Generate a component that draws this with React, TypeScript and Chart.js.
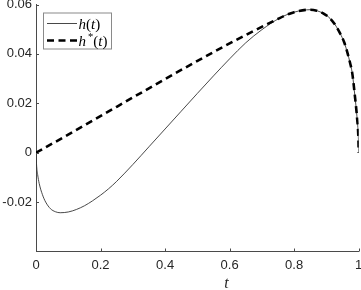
import React, { useEffect, useRef } from "react";
import { Chart, registerables } from "chart.js";

Chart.register(...registerables);

// h(t) samples
const H_T = [0, 0.002, 0.005, 0.01, 0.02, 0.03, 0.045, 0.06, 0.075, 0.1, 0.125, 0.15, 0.175, 0.2, 0.225, 0.25, 0.3, 0.35, 0.4, 0.45, 0.5, 0.55, 0.6, 0.65, 0.7, 0.755, 0.8, 0.85, 0.87, 0.89, 0.911, 0.93, 0.942, 0.955, 0.965, 0.973, 0.98, 0.9886, 0.995, 0.999, 1];
const H_V = [0, -0.0055, -0.0088, -0.0125, -0.017, -0.02, -0.0227, -0.0239, -0.0243, -0.024, -0.023, -0.0215, -0.0195, -0.0172, -0.0146, -0.0116, -0.0048, 0.0024, 0.0096, 0.0168, 0.024, 0.0311, 0.038, 0.0445, 0.0498, 0.0545, 0.0569, 0.0579, 0.0575, 0.0564, 0.0544, 0.0512, 0.0484, 0.0447, 0.0405, 0.0365, 0.0322, 0.0225, 0.014, 0.006, 0];

// h*(t) samples (concave envelope)
const HS_T = [0, 0.755, 0.8, 0.85, 0.87, 0.89, 0.911, 0.93, 0.942, 0.955, 0.965, 0.973, 0.98, 0.9886, 0.995, 0.999, 1];
const HS_V = [0, 0.0545, 0.0569, 0.0579, 0.0575, 0.0564, 0.0544, 0.0512, 0.0484, 0.0447, 0.0405, 0.0365, 0.0322, 0.0225, 0.014, 0.006, 0];

const X_TICKS = [0, 0.2, 0.4, 0.6, 0.8, 1];
const Y_TICKS = [-0.02, 0, 0.02, 0.04, 0.06];
const X_RANGE = [0, 1];
const Y_RANGE = [-0.04, 0.06];

const SANS = '"Liberation Sans", Arial, sans-serif';
const SERIF = '"Liberation Serif", "Times New Roman", serif';
const AXIS_COLOR = "#4a4a4a";
const DASH = [7, 4.5];

type Seg = { t: string; italic?: boolean; sup?: boolean; gap?: number };

function drawMath(ctx: CanvasRenderingContext2D, segs: Seg[], x: number, y: number, size: number) {
  let cx = x;
  segs.forEach((s) => {
    const fs = s.sup ? size * 0.7 : size;
    ctx.font = `${s.italic ? "italic " : ""}${fs}px ${SERIF}`;
    const dy = s.sup ? -size * 0.36 : 0;
    cx += s.gap || 0;
    ctx.fillText(s.t, cx, y + dy);
    cx += ctx.measureText(s.t).width;
  });
}

const decor = {
  id: "decor",
  afterDraw(chart: any) {
    const { ctx, chartArea: a, scales } = chart;
    const xs = scales.x;
    const ys = scales.y;
    ctx.save();
    // inward tick marks
    ctx.strokeStyle = AXIS_COLOR;
    ctx.lineWidth = 1;
    ctx.beginPath();
    X_TICKS.forEach((v) => {
      const px = Math.round(xs.getPixelForValue(v)) + 0.5;
      ctx.moveTo(px, a.bottom);
      ctx.lineTo(px, a.bottom - 3);
    });
    Y_TICKS.forEach((v) => {
      const py = Math.round(ys.getPixelForValue(v)) + 0.5;
      ctx.moveTo(a.left, py);
      ctx.lineTo(a.left + 3, py);
    });
    ctx.stroke();

    // x axis title
    ctx.fillStyle = "#262626";
    ctx.textAlign = "center";
    ctx.textBaseline = "alphabetic";
    ctx.font = `italic 16px ${SERIF}`;
    ctx.fillText("t", xs.getPixelForValue(0.59), 288);

    // legend
    const lx = a.left + 7.5;
    const ly = a.top + 8.5;
    const lw = 68;
    const lh = 36;
    ctx.fillStyle = "#ffffff";
    ctx.fillRect(lx, ly, lw, lh);
    ctx.strokeStyle = "#8a8a8a";
    ctx.lineWidth = 1;
    ctx.strokeRect(lx, ly, lw, lh);

    const r1 = ly + 10.5;
    const r2 = ly + 27.5;
    ctx.strokeStyle = "#333333";
    ctx.lineWidth = 0.9;
    ctx.beginPath();
    ctx.moveTo(lx + 3.5, r1);
    ctx.lineTo(lx + 33.5, r1);
    ctx.stroke();
    ctx.strokeStyle = "#000000";
    ctx.lineWidth = 2.6;
    ctx.setLineDash(DASH);
    ctx.beginPath();
    ctx.moveTo(lx + 3.5, r2);
    ctx.lineTo(lx + 33.5, r2);
    ctx.stroke();
    ctx.setLineDash([]);

    ctx.fillStyle = "#000000";
    ctx.textAlign = "left";
    drawMath(ctx, [{ t: "h", italic: true }, { t: "(" }, { t: "t", italic: true }, { t: ")" }], lx + 35, r1 + 5, 15);
    drawMath(ctx, [{ t: "h", italic: true }, { t: "*", sup: true, gap: 2 }, { t: "(" }, { t: "t", italic: true }, { t: ")" }], lx + 35, r2 + 5, 15);
    ctx.restore();
  },
};

export default function App() {
  const ref = useRef<HTMLCanvasElement | null>(null);

  useEffect(() => {
    if (!ref.current) return;
    const hData = H_T.map((t, i) => ({ x: t, y: H_V[i] }));
    const hsData = HS_T.map((t, i) => ({ x: t, y: HS_V[i] }));
    const chart = new Chart(ref.current, {
      type: "line",
      data: {
        datasets: [
          {
            label: "h(t)",
            data: hData,
            borderColor: "#333333",
            borderWidth: 0.9,
            pointRadius: 0,
            cubicInterpolationMode: "monotone",
            tension: 0.4,
            fill: false,
            order: 2,
          },
          {
            label: "h*(t)",
            data: hsData,
            borderColor: "#000000",
            borderWidth: 2.6,
            borderDash: DASH,
            pointRadius: 0,
            cubicInterpolationMode: "monotone",
            tension: 0.4,
            fill: false,
            order: 1,
          },
        ],
      },
      options: {
        responsive: false,
        animation: false,
        devicePixelRatio: 1,
        layout: { padding: { left: 0, top: 4.5, right: 2.3, bottom: 0 } },
        plugins: { legend: { display: false }, tooltip: { enabled: false } },
        scales: {
          x: {
            type: "linear",
            min: X_RANGE[0],
            max: X_RANGE[1],
            afterBuildTicks: (s: any) => {
              s.ticks = X_TICKS.map((v) => ({ value: v }));
            },
            afterFit: (s: any) => {
              s.height = 38.5;
              s.paddingLeft = 0;
              s.paddingRight = 0;
            },
            grid: { display: false, drawTicks: false },
            border: { display: true, color: AXIS_COLOR, width: 1 },
            ticks: {
              maxRotation: 0,
              autoSkip: false,
              padding: 6,
              color: "#262626",
              font: { family: SANS, size: 13 },
              callback: (v: any) => String(Math.round(Number(v) * 10) / 10),
            },
          },
          y: {
            type: "linear",
            min: Y_RANGE[0],
            max: Y_RANGE[1],
            afterBuildTicks: (s: any) => {
              s.ticks = Y_TICKS.map((v) => ({ value: v }));
            },
            afterFit: (s: any) => {
              s.width = 36;
              s.paddingTop = 0;
              s.paddingBottom = 0;
            },
            grid: { display: false, drawTicks: false },
            border: { display: true, color: AXIS_COLOR, width: 1 },
            ticks: {
              autoSkip: false,
              padding: 4,
              color: "#262626",
              font: { family: SANS, size: 13 },
              callback: (v: any) => String(Math.round(Number(v) * 100) / 100),
            },
          },
        },
      },
      plugins: [decor],
    });
    return () => chart.destroy();
  }, []);

  return (
    <div style={{ position: "fixed", left: 0, top: 0, width: 361, height: 290, background: "#fff" }}>
      <canvas ref={ref} width={361} height={290} style={{ width: 361, height: 290, display: "block" }} />
    </div>
  );
}
